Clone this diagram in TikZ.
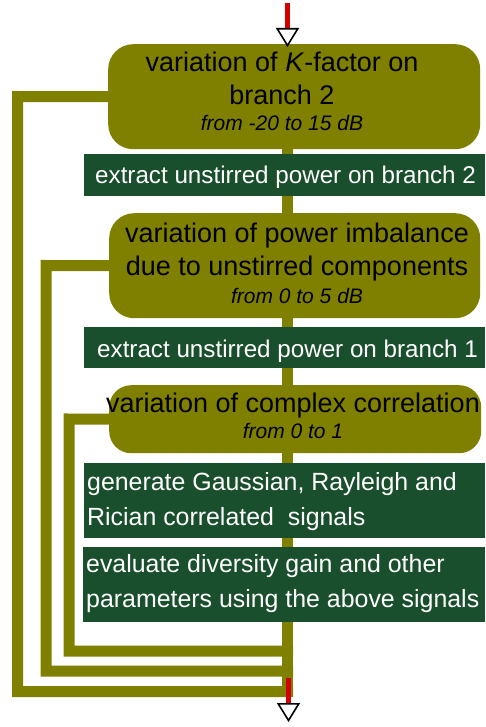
\documentclass[tikz,border=0pt]{standalone}
\usepackage{fontspec}
\setmainfont{Liberation Sans}
\usetikzlibrary{positioning,arrows.meta,calc,backgrounds}
\definecolor{FlowOlive}{HTML}{808000}
\definecolor{FlowGreen}{HTML}{1A4F2D}
\definecolor{FlowRed}{HTML}{D40000}
\tikzset{
  loopbox/.style={rounded corners=25pt, fill=FlowOlive, anchor=north west, inner sep=0pt},
  stepbox/.style={fill=FlowGreen, anchor=north west, inner sep=0pt},
  looptext/.style={align=center, anchor=base, inner sep=0pt, text=black, font=\fontsize{27}{33}\selectfont},
  steptext/.style={align=left, anchor=base west, inner sep=0pt, text=white, font=\fontsize{24.9}{34.5}\selectfont},
  trunk/.style={line width=11pt, draw=FlowOlive},
  feedback/.style={line width=11pt, draw=FlowOlive, line join=miter},
  redarr/.style={line width=4.5pt, draw=FlowRed, -{Triangle[open, fill=white, color=black, line width=1.6pt, length=19pt, width=23pt]}}
}
\newcommand{\rangefont}{\fontsize{21}{25}\selectfont\itshape}

\begin{document}
\begin{tikzpicture}[x=1pt, y=-1pt]
\useasboundingbox (0,0) rectangle (485,727);
% end points of the flow
\coordinate (entry) at (287.5,3);
\coordinate (tb) at (287.5,697);
\coordinate (drop) at (288.5,678);
\coordinate (exit) at (288.5,722);
% boxes
\node[loopbox, minimum width=372pt, minimum height=105pt] (b1) at (108,44) {};
\node[loopbox, minimum width=371pt, minimum height=105pt] (b2) at (109,213) {};
\node[loopbox, minimum width=372pt, minimum height=68pt, rounded corners=22pt] (b3) at (109,385) {};
\node[stepbox, minimum width=401pt, minimum height=42pt] (g1) at (84,154) {};
\node[stepbox, minimum width=401pt, minimum height=41pt] (g2) at (84,327) {};
\node[stepbox, minimum width=401pt, minimum height=75pt] (g3) at (84,463) {};
\node[stepbox, minimum width=402pt, minimum height=75pt] (g4) at (83,547) {};
% trunk and loops behind the boxes
\begin{scope}[on background layer]
\draw[trunk] (b1.center -| tb) -- (tb);
\draw[feedback] ($(b1.west)+(10,0)$) -- (17.5,96.5) |- ($(tb)+(5.5,-5.5)$);
\draw[feedback] ($(b2.west)+(10,0)$) -- (46,265.5) |- ($(tb)+(5.5,-26)$);
\draw[feedback] ($(b3.west)+(10,0)$) -- (69,419) |- ($(tb)+(5.5,-46)$);
\end{scope}
% in and out
\draw[redarr] (entry) -- ($(entry |- b1.north)+(0,3)$);
\draw[redarr] (drop) -- (exit);
% texts (base = last line)
\node[looptext] (t1) at (282,131) {variation of \textit{K}-factor on\\branch 2\\[-7pt]{\rangefont from -20 to 15 dB}};
\node[looptext] (t2) at (297,303) {variation of power imbalance\\due to unstirred components\\[-5pt]{\rangefont from 0 to 5 dB}};
\node[looptext] (t3) at (293,438) {variation of complex correlation\\[-7pt]{\rangefont from 0 to 1}};
\node[steptext, font=\fontsize{24.2}{34.5}\selectfont] (s1) at (95,184) {extract unstirred power on branch 2};
\node[steptext, font=\fontsize{24.2}{34.5}\selectfont] (s2) at (97,357) {extract unstirred power on branch 1};
\node[steptext] (s3) at (87,525) {generate Gaussian, Rayleigh and\\Rician correlated\ \ signals};
\node[steptext] (s4) at (86,607) {evaluate diversity gain and other\\parameters using the above signals};
\end{tikzpicture}
\end{document}
